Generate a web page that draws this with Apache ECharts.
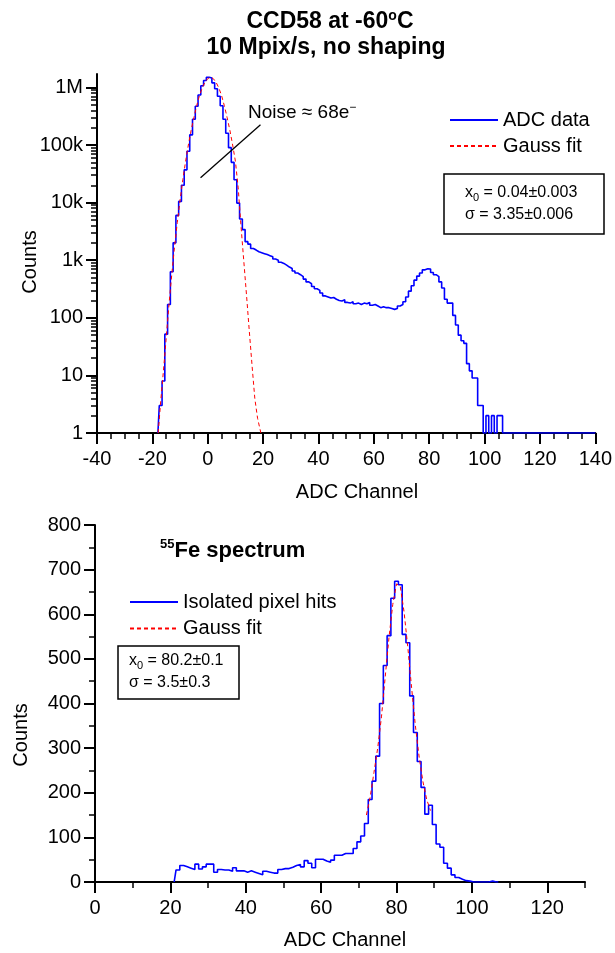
<!DOCTYPE html>
<html><head><meta charset="utf-8">
<script src="https://cdn.jsdelivr.net/npm/echarts@6/dist/echarts.min.js"></script>
<style>html,body{margin:0;padding:0;background:#fff}#c{width:615px;height:953px}</style>
</head><body><div id="c"></div>
<script>
// ---------- DATA ----------
// Top panel: ADC histogram (1 channel bins), first entry is channel -18
const topFirstChannel = -18;
const topCounts = [
  0,
  3,8,52,170,630,2000,6000,10500,20000,37000,            // -17..-8
  78000,150000,280000,470000,740000,1070000,1320000,1500000,1450000,1200000, // -7..2
  950000,700000,480000,280000,160000,90000,50000,25000,9800,5200,  // 3..12
  3400,2100,1900,1600,1500,1400,1350,1300,1250,1200,     // 13..22
  1150,1050,1000,920,880,820,760,720,650,600,            // 23..32
  560,520,470,420,390,350,320,300,270,240,               // 33..42
  230,220,225,210,200,195,205,185,180,190,               // 43..52
  175,180,170,180,175,185,165,170,160,150,               // 53..62
  155,150,150,145,140,145,160,170,190,230,               // 63..72
  290,360,450,530,600,680,710,700,610,560,               // 73..82
  520,420,330,210,180,180,110,75,50,40,                  // 83..92
  36,16,12,9,9,3,3,0,2,0,                                // 93..102
  2,0,2,2,0,0,0,0,0,0,                                   // 103..112
  0,0,0,0,0,0,0,0,0,0,                                   // 113..122
  0,0,0,0,0,0,0,0,0,0,                                   // 123..132
  0,0,0,0,0,0,0,0                                        // 133..140
];
// Top panel: Gauss fit [channel, counts]
const topFitChannels = [-17.9,-17,-16,-15,-14,-13,-12,-11,-10,-9,-8,-7,-6,-5,-4,-3,-2,-1,0,1,2,3,4,5,6,7,8,9,10,11,12,13,14,15,16,17,18,19.2];
const topFitCounts   = [1,3.5,12,45,170,560,1700,4500,11000,25000,52000,100000,180000,300000,480000,720000,980000,1230000,1420000,1500000,1420000,1230000,980000,720000,480000,300000,180000,100000,52000,18000,4000,1000,250,60,15,4,1.8,1];
const topYTickLabels = ['1','10','100','1k','10k','100k','1M'];

// Bottom panel: 55Fe spectrum, first entry is channel 21
const feFirstChannel = 21;
const feCounts = [
  0,
  27,37,34,31,28,40,29,34,40,40,          // 22..31
  22,28,27,27,24,32,25,25,22,25,          // 32..41
  22,19,16,24,22,20,20,28,30,30,          // 42..51
  33,37,39,34,48,42,32,51,51,47,          // 52..61
  44,49,60,60,64,64,64,75,90,103,         // 62..71
  131,185,226,282,400,485,552,636,674,666,// 72..81
  555,536,417,335,270,212,152,172,129,85, // 82..91
  78,42,31,16,10,6,3,2,0,0,               // 92..101
  0,0,0,2,0,0                             // 102..107
];
const feFitChannels = [72,73,74,75,76,77,78,79,80,81,82,83,84,85,86,87,88,89];
const feFitCounts   = [150,190,245,300,370,460,548,622,668,662,605,525,435,350,280,225,185,160];

// ---------- CHART ----------
const FONT = '"Liberation Sans", Arial, Helvetica, sans-serif';
const lg = v => v > 0 ? Math.log10(v) : 0;
const topData = topCounts.map((c, i) => [topFirstChannel + i, lg(c)]);
const topFit = topFitChannels.map((x, i) => [x, lg(topFitCounts[i])]);
const feData = feCounts.map((c, i) => [feFirstChannel + i, c]);
const feFit = feFitChannels.map((x, i) => [x, feFitCounts[i]]);
const majorLog = topYTickLabels.map((_, i) => i);
const minorLog = [];
for (let d = 0; d < 6; d++) for (let k = 2; k <= 9; k++) minorLog.push(Math.log10(k) + d);
minorLog.push(Math.log10(2) + 6);

const axisCol = '#000';
const lab = { fontFamily: FONT, fontSize: 20, color: '#000' };
const yMaxTop = 359 / 57.6;

const chart = echarts.init(document.getElementById('c'));
chart.setOption({
  animation: false,
  backgroundColor: '#fff',
  grid: [
    { left: 97, top: 74, width: 499, height: 359 },
    { left: 95, top: 525, width: 490, height: 357 }
  ],
  xAxis: [
    { gridIndex: 0, type: 'value', min: -40, max: 140, interval: 20, position: 'bottom',
      axisLine: { onZero: false, lineStyle: { color: axisCol, width: 2 } },
      axisTick: { length: 11, lineStyle: { color: axisCol, width: 2 } },
      axisLabel: Object.assign({ margin: 16 }, lab), splitLine: { show: false } },
    { gridIndex: 0, type: 'value', min: -40, max: 140, interval: 5, position: 'bottom',
      axisLine: { show: false, onZero: false }, axisTick: { length: 6, lineStyle: { color: axisCol, width: 1.5 } },
      axisLabel: { show: false }, splitLine: { show: false } },
    { gridIndex: 1, type: 'value', min: 0, max: 130, position: 'bottom',
      axisLine: { onZero: false, lineStyle: { color: axisCol, width: 2 } },
      axisTick: { length: 11, customValues: [0,20,40,60,80,100,120], lineStyle: { color: axisCol, width: 2 } },
      axisLabel: Object.assign({ margin: 16, customValues: [0,20,40,60,80,100,120] }, lab), splitLine: { show: false } },
    { gridIndex: 1, type: 'value', min: 0, max: 130, interval: 10, position: 'bottom',
      axisLine: { show: false, onZero: false }, axisTick: { length: 6, lineStyle: { color: axisCol, width: 1.5 } },
      axisLabel: { show: false }, splitLine: { show: false } }
  ],
  yAxis: [
    { gridIndex: 0, type: 'value', min: 0, max: yMaxTop, position: 'left',
      axisLine: { show: true, onZero: false, lineStyle: { color: axisCol, width: 2 } },
      axisTick: { show: true, length: 11, customValues: majorLog, lineStyle: { color: axisCol, width: 2 } },
      axisLabel: Object.assign({ margin: 14, customValues: majorLog,
        formatter: v => topYTickLabels[Math.round(v)] }, lab),
      splitLine: { show: false } },
    { gridIndex: 0, type: 'value', min: 0, max: yMaxTop, position: 'left',
      axisLine: { show: false, onZero: false },
      axisTick: { show: true, length: 6, customValues: minorLog, lineStyle: { color: axisCol, width: 1.5 } },
      axisLabel: { show: false }, splitLine: { show: false } },
    { gridIndex: 1, type: 'value', min: 0, max: 800, interval: 100, position: 'left',
      axisLine: { show: true, onZero: false, lineStyle: { color: axisCol, width: 2 } },
      axisTick: { show: true, length: 11, lineStyle: { color: axisCol, width: 2 } },
      axisLabel: Object.assign({ margin: 14 }, lab), splitLine: { show: false } },
    { gridIndex: 1, type: 'value', min: 0, max: 800, interval: 50, position: 'left',
      axisLine: { show: false, onZero: false },
      axisTick: { show: true, length: 6, lineStyle: { color: axisCol, width: 1.5 } },
      axisLabel: { show: false }, splitLine: { show: false } }
  ],
  legend: [
    { left: 444, top: 105, orient: 'vertical', itemWidth: 48, itemHeight: 14, itemGap: 6,
      selectedMode: false, data: ['ADC data', 'Gauss fit'], itemStyle: { opacity: 0 },
      textStyle: { fontFamily: FONT, fontSize: 20, color: '#000', lineHeight: 20 } },
    { left: 124, top: 587, orient: 'vertical', itemWidth: 48, itemHeight: 14, itemGap: 6.6,
      selectedMode: false, data: ['Isolated pixel hits', 'Gauss fit '], itemStyle: { opacity: 0 },
      textStyle: { fontFamily: FONT, fontSize: 20, color: '#000', lineHeight: 20 } }
  ],
  series: [
    { name: 'ADC data', type: 'line', xAxisIndex: 0, yAxisIndex: 0, step: 'middle',
      data: topData, symbol: 'none', lineStyle: { color: '#0000ff', width: 1.6 }, itemStyle: { color: '#0000ff' },
      z: 3,
      markLine: { silent: true, symbol: ['none', 'none'], label: { show: false },
        lineStyle: { color: '#000', width: 1.3, type: 'solid' },
        data: [[{ coord: [-2.6, 4.43] }, { coord: [19.05, 5.35] }]] } },
    { name: 'Gauss fit', type: 'line', xAxisIndex: 0, yAxisIndex: 0,
      data: topFit, symbol: 'none', lineStyle: { color: '#ff0000', width: 1, type: [4, 3] }, itemStyle: { color: '#ff0000' }, z: 4 },
    { name: 'Isolated pixel hits', type: 'line', xAxisIndex: 2, yAxisIndex: 2, step: 'middle',
      data: feData, symbol: 'none', lineStyle: { color: '#0000ff', width: 1.6 }, itemStyle: { color: '#0000ff' }, z: 3 },
    { name: 'Gauss fit ', type: 'line', xAxisIndex: 2, yAxisIndex: 2,
      data: feFit, symbol: 'none', lineStyle: { color: '#ff0000', width: 1, type: [4, 3] }, itemStyle: { color: '#ff0000' }, z: 4 }
  ],
  graphic: [
    { type: 'text', x: 330, y: 22, style: { text: '{a|CCD58 at -60}{s|o}{a|C}', textAlign: 'center', textVerticalAlign: 'middle',
      rich: { a: { fontFamily: FONT, fontSize: 23, fontWeight: 'bold', lineHeight: 26 },
              s: { fontFamily: FONT, fontSize: 14, fontWeight: 'bold', lineHeight: 14, verticalAlign: 'top' } } } },
    { type: 'text', x: 326, y: 48, style: { text: '10 Mpix/s, no shaping', textAlign: 'center', textVerticalAlign: 'middle',
      fontFamily: FONT, fontSize: 23, fontWeight: 'bold', fill: '#000' } },
    { type: 'text', x: 30, y: 262, rotation: Math.PI / 2, style: { text: 'Counts', textAlign: 'center', textVerticalAlign: 'middle', fontFamily: FONT, fontSize: 20, fill: '#000' } },
    { type: 'text', x: 357, y: 492, style: { text: 'ADC Channel', textAlign: 'center', textVerticalAlign: 'middle', fontFamily: FONT, fontSize: 20, fill: '#000' } },
    { type: 'text', x: 21, y: 735, rotation: Math.PI / 2, style: { text: 'Counts', textAlign: 'center', textVerticalAlign: 'middle', fontFamily: FONT, fontSize: 20, fill: '#000' } },
    { type: 'text', x: 345, y: 940, style: { text: 'ADC Channel', textAlign: 'center', textVerticalAlign: 'middle', fontFamily: FONT, fontSize: 20, fill: '#000' } },
    { type: 'text', x: 248, y: 113, style: { text: '{a|Noise ≈ 68e}{s|−}', textVerticalAlign: 'middle',
      rich: { a: { fontFamily: FONT, fontSize: 19, lineHeight: 22 }, s: { fontFamily: FONT, fontSize: 12, lineHeight: 12, verticalAlign: 'top' } } } },
    { type: 'rect', shape: { x: 444, y: 174, width: 160, height: 60 }, style: { fill: '#fff', stroke: '#000', lineWidth: 1.5 } },
    { type: 'text', x: 465, y: 193, style: { text: '{a|x}{s|0}{a| = 0.04±0.003}', textVerticalAlign: 'middle',
      rich: { a: { fontFamily: FONT, fontSize: 16, lineHeight: 20 }, s: { fontFamily: FONT, fontSize: 11, lineHeight: 11, verticalAlign: 'bottom' } } } },
    { type: 'text', x: 465, y: 215, style: { text: 'σ = 3.35±0.006', textVerticalAlign: 'middle', fontFamily: FONT, fontSize: 16, fill: '#000' } },
    { type: 'text', x: 160, y: 551, style: { text: '{s|55}{a|Fe spectrum}', textVerticalAlign: 'middle',
      rich: { a: { fontFamily: FONT, fontSize: 22, fontWeight: 'bold', lineHeight: 26 }, s: { fontFamily: FONT, fontSize: 13, fontWeight: 'bold', lineHeight: 13, verticalAlign: 'top' } } } },
    { type: 'rect', shape: { x: 118, y: 646, width: 121, height: 53 }, style: { fill: '#fff', stroke: '#000', lineWidth: 1.5 } },
    { type: 'text', x: 129, y: 661, style: { text: '{a|x}{s|0}{a| = 80.2±0.1}', textVerticalAlign: 'middle',
      rich: { a: { fontFamily: FONT, fontSize: 16, lineHeight: 20 }, s: { fontFamily: FONT, fontSize: 11, lineHeight: 11, verticalAlign: 'bottom' } } } },
    { type: 'text', x: 129, y: 683, style: { text: 'σ = 3.5±0.3', textVerticalAlign: 'middle', fontFamily: FONT, fontSize: 16, fill: '#000' } }
  ]
});
</script></body></html>
